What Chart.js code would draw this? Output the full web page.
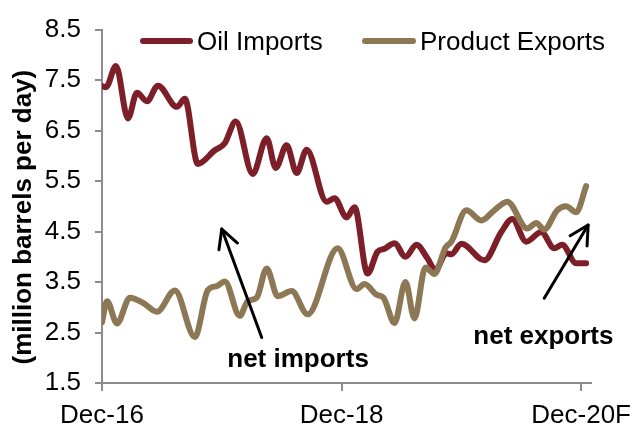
<!DOCTYPE html>
<html><head><meta charset="utf-8">
<script src="https://cdn.jsdelivr.net/npm/chart.js@4.4.1/dist/chart.umd.min.js"></script>
<style>html,body{margin:0;padding:0;background:#fff}#wrap{width:641px;height:426px}</style>
</head><body><div id="wrap"><canvas id="c" width="641" height="426"></canvas></div>
<script>
// ---- data (x = months since Dec-16) ----
const seriesNames = ['Oil Imports', 'Product Exports'];
const oilMonths = [0, 0.4, 1.4, 2.6, 3.5, 4.5, 5.6, 7.5, 8.3, 9.6, 11.3, 12.3, 13.4, 15.1, 16.5, 17.4, 18.5, 19.5, 20.5, 22.5, 23.3, 24.5, 25.3, 26.6, 27.6, 28.3, 29.3, 30.4, 31.5, 32.6, 33.4, 34.5, 35.0, 36.0, 38.3, 40.0, 41.1, 42.5, 44.0, 45.3, 46.1, 47.5, 48.5];
const oilImports = [7.38, 7.36, 7.78, 6.74, 7.25, 7.08, 7.39, 6.97, 7.13, 5.84, 6.11, 6.25, 6.68, 5.64, 6.35, 5.76, 6.21, 5.66, 6.12, 5.09, 5.16, 4.78, 4.98, 3.67, 4.10, 4.16, 4.27, 4.00, 4.24, 3.97, 3.74, 4.07, 4.05, 4.26, 3.93, 4.49, 4.75, 4.30, 4.49, 4.17, 4.24, 3.87, 3.87];
const exportMonths = [0, 0.5, 1.5, 2.8, 4.1, 5.5, 7.3, 9.3, 10.6, 11.5, 12.3, 13.8, 14.6, 15.5, 16.5, 17.6, 19.0, 20.6, 23.6, 25.5, 26.3, 27.5, 28.2, 29.3, 30.4, 31.3, 32.4, 33.3, 34.4, 35.0, 36.5, 38.0, 39.3, 40.6, 42.6, 43.5, 44.3, 45.6, 46.5, 47.5, 48.5];
const productExports = [2.7, 3.12, 2.68, 3.19, 3.09, 2.91, 3.33, 2.41, 3.34, 3.42, 3.51, 2.83, 3.12, 3.19, 3.77, 3.22, 3.32, 2.86, 4.17, 3.36, 3.46, 3.25, 3.19, 2.69, 3.50, 2.78, 3.79, 3.66, 4.18, 4.30, 4.92, 4.72, 4.92, 5.09, 4.56, 4.67, 4.54, 4.92, 5.00, 4.88, 5.40];
const xTickMonths = [0, 24, 48];
const xTickLabels = ['Dec-16', 'Dec-18', 'Dec-20F'];
const yTicks = [1.5, 2.5, 3.5, 4.5, 5.5, 6.5, 7.5, 8.5];
const yAxisTitle = '(million barrels per day)';
const noteTexts = ['net imports', 'net exports'];

// ---- styling ----
const FONT = "'Liberation Sans', Arial, sans-serif";
const colors = ['#7d1f28', '#8c7855'];
const axisGray = '#8c8c8c';
Chart.defaults.font.family = FONT;

const toPts = (xs, ys) => xs.map((x, i) => ({ x: x, y: ys[i] }));

// custom legend (drawn inside plot, like the original)
const legendPlugin = {
  id: 'innerLegend',
  afterDraw(chart, args, opts) {
    const ctx = chart.ctx;
    ctx.save();
    opts.items.forEach((it, i) => {
      const ds = chart.data.datasets[i];
      ctx.strokeStyle = ds.borderColor;
      ctx.lineWidth = 6;
      ctx.lineCap = 'round';
      ctx.beginPath();
      ctx.moveTo(it.x + 3, opts.lineY);
      ctx.lineTo(it.x + it.len - 3, opts.lineY);
      ctx.stroke();
      ctx.fillStyle = '#000';
      ctx.font = '26px ' + FONT;
      ctx.textBaseline = 'alphabetic';
      ctx.textAlign = 'left';
      ctx.fillText(ds.label, it.x + it.len + 4, opts.textY);
    });
    ctx.restore();
  }
};

// arrows and notes, positioned in data space
const notePlugin = {
  id: 'notes',
  afterDraw(chart, args, opts) {
    const ctx = chart.ctx, xs = chart.scales.x, ys = chart.scales.y;
    ctx.save();
    ctx.strokeStyle = '#000';
    ctx.lineWidth = 3;
    ctx.lineCap = 'round';
    ctx.lineJoin = 'round';
    opts.arrows.forEach(a => {
      const x0 = xs.getPixelForValue(a.from[0]), y0 = ys.getPixelForValue(a.from[1]);
      const x1 = xs.getPixelForValue(a.to[0]), y1 = ys.getPixelForValue(a.to[1]);
      ctx.beginPath(); ctx.moveTo(x0, y0); ctx.lineTo(x1, y1); ctx.stroke();
      const ang = Math.atan2(y0 - y1, x0 - x1);
      const h = 21, sp = 28 * Math.PI / 180;
      ctx.beginPath();
      ctx.moveTo(x1 + h * Math.cos(ang + sp), y1 + h * Math.sin(ang + sp));
      ctx.lineTo(x1, y1);
      ctx.lineTo(x1 + h * Math.cos(ang - sp), y1 + h * Math.sin(ang - sp));
      ctx.stroke();
    });
    ctx.fillStyle = '#000';
    ctx.font = 'bold 26px ' + FONT;
    ctx.textAlign = 'left';
    ctx.textBaseline = 'alphabetic';
    opts.labels.forEach((l, i) => {
      ctx.fillText(noteTexts[i], xs.getPixelForValue(l.at[0]), ys.getPixelForValue(l.at[1]));
    });
    ctx.restore();
  }
};

new Chart(document.getElementById('c'), {
  type: 'line',
  data: {
    datasets: [
      { label: seriesNames[0], data: toPts(oilMonths, oilImports), borderColor: colors[0], backgroundColor: colors[0], order: 1 },
      { label: seriesNames[1], data: toPts(exportMonths, productExports), borderColor: colors[1], backgroundColor: colors[1], order: 0 }
    ]
  },
  options: {
    responsive: false,
    animation: false,
    devicePixelRatio: 1,
    layout: { padding: { left: 0, right: 49, top: 25, bottom: 0 } },
    elements: {
      point: { radius: 0, hoverRadius: 0 },
      line: { borderWidth: 6, cubicInterpolationMode: 'monotone', borderCapStyle: 'round', borderJoinStyle: 'round', fill: false }
    },
    plugins: {
      legend: { display: false },
      tooltip: { enabled: false },
      innerLegend: { lineY: 41, textY: 50, items: [{ x: 140, len: 53 }, { x: 362, len: 54 }] },
      notes: {
        arrows: [
          { from: [16.0, 2.40], to: [12.0, 4.55] },
          { from: [44.3, 3.18], to: [48.7, 4.63] }
        ],
        labels: [{ at: [12.55, 1.81] }, { at: [37.2, 2.28] }]
      }
    },
    scales: {
      x: {
        type: 'linear', min: 0, max: 49,
        afterBuildTicks: s => { s.ticks = xTickMonths.map(v => ({ value: v })); },
        afterFit: s => { s.height = 43; },
        ticks: {
          callback: v => xTickLabels[xTickMonths.indexOf(v)],
          font: { size: 26 }, color: '#000', padding: 9, maxRotation: 0, autoSkip: false
        },
        grid: { drawOnChartArea: false, drawTicks: true, tickLength: 8, color: axisGray, lineWidth: 2 },
        border: { display: true, color: axisGray, width: 2 }
      },
      y: {
        min: 1.5, max: 8.5,
        afterBuildTicks: s => { s.ticks = yTicks.map(v => ({ value: v })); },
        afterFit: s => { s.width = 102; },
        ticks: { callback: v => Number(v).toFixed(1), font: { size: 26 }, color: '#000', padding: 14 },
        grid: { drawOnChartArea: false, drawTicks: true, tickLength: 7, color: axisGray, lineWidth: 2 },
        border: { display: true, color: axisGray, width: 2 },
        title: { display: true, text: yAxisTitle + '   ', font: { size: 26, weight: 'bold' }, color: '#000', padding: { top: 8, bottom: 0 } }
      }
    }
  },
  plugins: [legendPlugin, notePlugin]
});
</script>
</body></html>
